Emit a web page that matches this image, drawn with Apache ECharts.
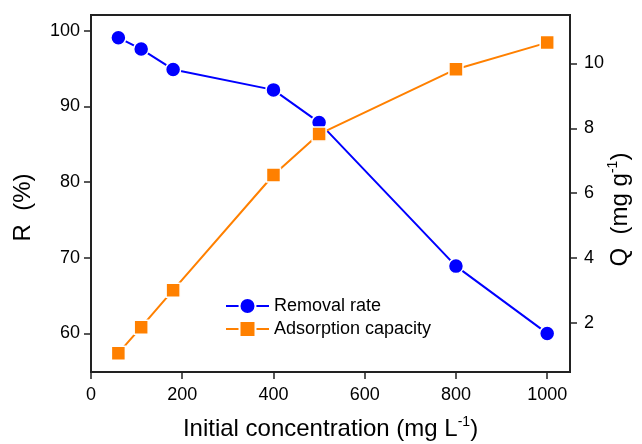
<!DOCTYPE html>
<html>
<head>
<meta charset="utf-8">
<script src="https://cdn.jsdelivr.net/npm/echarts@6/dist/echarts.min.js"></script>
<style>
html,body{margin:0;padding:0;background:#fff;}
#chart{width:642px;height:444px;}
</style>
</head>
<body>
<div id="chart"></div>
<script>
// Data
var concentration = [60, 110, 180, 400, 500, 800, 1000];
var removalRate = [99.1, 97.6, 94.9, 92.2, 87.9, 68.9, 60.0];
var adsorptionCapacity = [1.07, 1.87, 3.01, 6.56, 7.82, 9.82, 10.64];
var xTicks = [0, 200, 400, 600, 800, 1000];
var leftTicks = [60, 70, 80, 90, 100];
var rightTicks = [2, 4, 6, 8, 10];
var seriesNames = ['Removal rate', 'Adsorption capacity'];

function pairs(xs, ys) { return xs.map(function (x, i) { return [x, ys[i]]; }); }
function plain(v) { return String(v); }

var FONT = 'Liberation Sans, Arial, sans-serif';
var AXIS_COLOR = '#222';
var chart = echarts.init(document.getElementById('chart'), null, {renderer: 'canvas'});

var nameRich = {
  a: {fontSize: 24, fontFamily: FONT, color: '#000', lineHeight: 28},
  sup: {fontSize: 14, fontFamily: FONT, color: '#000', lineHeight: 14, verticalAlign: 'top'}
};

chart.setOption({
  animation: false,
  backgroundColor: '#fff',
  grid: {left: 91, right: 72, top: 15, bottom: 72, show: true, borderColor: AXIS_COLOR, borderWidth: 2,
         containLabel: false, outerBoundsMode: 'none'},
  legend: {
    orient: 'vertical', left: 225, top: 297, padding: 0, itemWidth: 43, itemHeight: 20, itemGap: 5,
    textStyle: {fontSize: 18, fontFamily: FONT, color: '#000'},
    data: seriesNames
  },
  xAxis: {
    type: 'value', min: 0, max: 1050,
    name: '{a|Initial concentration (mg L}{sup|-1}{a|)}',
    nameLocation: 'middle', nameGap: 43, nameMoveOverlap: false,
    nameTextStyle: {rich: nameRich},
    axisLine: {show: true, lineStyle: {color: AXIS_COLOR, width: 2}},
    axisTick: {show: true, inside: false, length: 7, lineStyle: {color: AXIS_COLOR, width: 1.5}, customValues: xTicks},
    axisLabel: {fontSize: 18, fontFamily: FONT, color: '#000', margin: 14, customValues: xTicks, formatter: plain},
    splitLine: {show: false}
  },
  yAxis: [{
    type: 'value', min: 54.9, max: 102.1, position: 'left',
    name: '{a|R  (%)}', nameLocation: 'middle', nameGap: 54, nameRotate: 90, nameMoveOverlap: false,
    nameTextStyle: {rich: nameRich, padding: [0, 28, 0, 0]},
    axisLine: {show: true, lineStyle: {color: AXIS_COLOR, width: 2}},
    axisTick: {show: true, inside: false, length: 7, lineStyle: {color: AXIS_COLOR, width: 1.5}, customValues: leftTicks},
    axisLabel: {fontSize: 18, fontFamily: FONT, color: '#000', margin: 11, customValues: leftTicks, formatter: plain},
    splitLine: {show: false}
  }, {
    type: 'value', min: 0.49, max: 11.49, position: 'right',
    name: '{a|Q  (mg g}{sup|-1}{a|)}', nameLocation: 'middle', nameGap: 36, nameRotate: 90, nameMoveOverlap: false,
    nameTextStyle: {rich: nameRich, padding: [0, 32, 0, 0]},
    axisLine: {show: true, lineStyle: {color: AXIS_COLOR, width: 2}},
    axisTick: {show: true, inside: false, length: 7, lineStyle: {color: AXIS_COLOR, width: 1.5}, customValues: rightTicks},
    axisLabel: {fontSize: 18, fontFamily: FONT, color: '#000', margin: 14, customValues: rightTicks, formatter: plain},
    splitLine: {show: false}
  }],
  series: [{
    name: seriesNames[0], type: 'line', yAxisIndex: 0,
    data: pairs(concentration, removalRate),
    symbol: 'circle', symbolSize: 15,
    lineStyle: {color: '#0000ff', width: 2},
    itemStyle: {color: '#0000ff', borderColor: '#fff', borderWidth: 1.5},
    emphasis: {disabled: true}
  }, {
    name: seriesNames[1], type: 'line', yAxisIndex: 1,
    data: pairs(concentration, adsorptionCapacity),
    symbol: 'rect', symbolSize: 14,
    lineStyle: {color: '#ff8000', width: 2},
    itemStyle: {color: '#ff8000', borderColor: '#fff', borderWidth: 1.5},
    emphasis: {disabled: true}
  }]
});
</script>
</body>
</html>
